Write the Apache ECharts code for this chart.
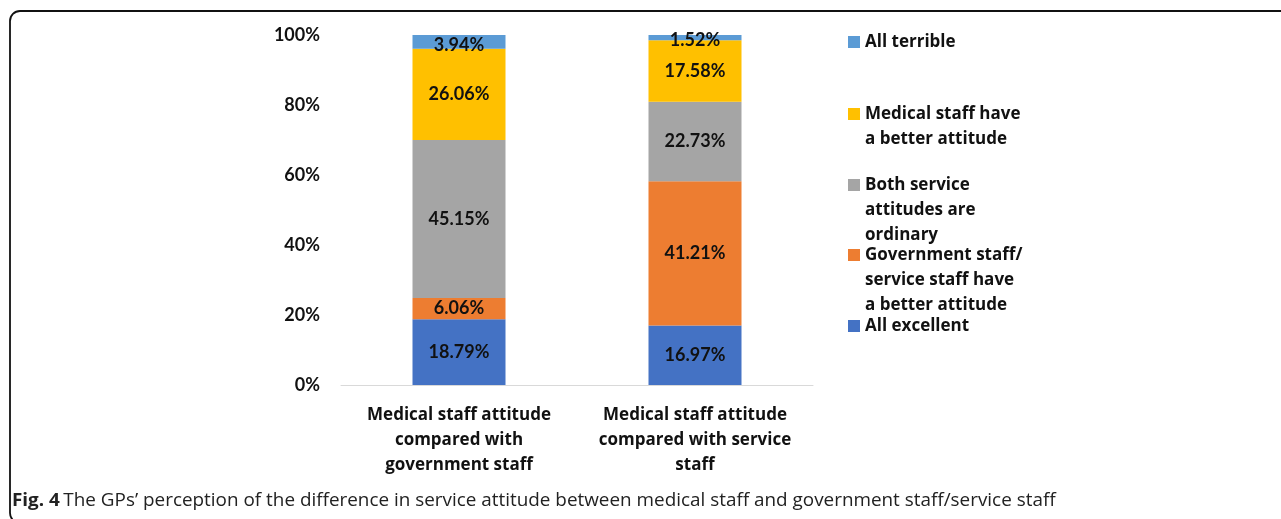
<!DOCTYPE html>
<html><head><meta charset="utf-8">
<script src="https://cdn.jsdelivr.net/npm/echarts@6/dist/echarts.min.js"></script>
<style>html,body{margin:0;padding:0;background:#fff}#c{width:1281px;height:519px}</style>
</head><body><div id="c"></div>
<script>
const categories = ['Medical staff attitude\ncompared with\ngovernment staff', 'Medical staff attitude\ncompared with service\nstaff'];
const allExcellent = [18.79, 16.97];
const govBetter = [6.06, 41.21];
const bothOrdinary = [45.15, 22.73];
const medicalBetter = [26.06, 17.58];
const allTerrible = [3.94, 1.52];
const seriesNames = ['All excellent', 'Government staff/\nservice staff have\na better attitude', 'Both service\nattitudes are\nordinary', 'Medical staff have\na better attitude', 'All terrible'];
const seriesColors = ['#4472C4', '#ED7D31', '#A5A5A5', '#FFC000', '#5B9BD5'];
const seriesValues = [allExcellent, govBetter, bothOrdinary, medicalBetter, allTerrible];
const legendIconCenters = [326, 255, 185, 114, 42];
const captionBold = 'Fig. 4';
const captionText = 'The GPs\u2019 perception of the difference in service attitude between medical staff and government staff/service staff';

const FONT = 'Lato';
const FONT2 = 'Open Sans';
const LH = 25;
const chart = echarts.init(document.getElementById('c'));
const series = seriesNames.map((n, i) => ({
  name: n, type: 'bar', stack: 's', barWidth: 93,
  itemStyle: { color: seriesColors[i] },
  label: { show: true, position: 'inside', color: '#111', fontFamily: FONT, fontWeight: 'bold', fontSize: 18,
    offset: [0, i === 4 ? 3 : 0],
    formatter: p => p.value.toFixed(2) + '%' },
  data: seriesValues[i]
}));
const legends = seriesNames.map((n, i) => {
  const lines = n.split('\n').length;
  return {
    data: [n], left: 848, top: legendIconCenters[i] - (2 * lines - 1) * LH / 2, orient: 'vertical',
    itemWidth: 12, itemHeight: 12, itemGap: 0, padding: 0,
    icon: 'rect', selectedMode: false,
    formatter: t => '\n'.repeat(lines - 1) + t,
    textStyle: { fontFamily: FONT2, fontWeight: 'bold', fontSize: 17, color: '#111', lineHeight: LH }
  };
});
const cv = document.createElement('canvas').getContext('2d');
cv.font = 'bold 18px "Open Sans"';
const wB = cv.measureText(captionBold + ' ').width;
cv.font = '18px "Open Sans"';
const wR = cv.measureText(captionText).width;
const capScale = 1045 / (wB + wR);

chart.setOption({
  animation: false,
  grid: { left: 341, right: 468, top: 35, bottom: 134 },
  legend: legends,
  xAxis: { type: 'category', data: categories,
    axisLine: { lineStyle: { color: '#d9d9d9', width: 1 } }, axisTick: { show: false },
    axisLabel: { fontFamily: FONT2, fontWeight: 'bold', fontSize: 17, color: '#111', lineHeight: LH, margin: 18, interval: 0 } },
  yAxis: { type: 'value', min: 0, max: 100, interval: 20,
    axisLine: { show: false }, axisTick: { show: false }, splitLine: { show: false },
    axisLabel: { formatter: '{value}%', fontFamily: FONT, fontWeight: 'bold', fontSize: 18, color: '#111', margin: 21 } },
  series: series,
  graphic: [
    { type: 'rect', shape: { x: 10, y: 11, width: 1300, height: 512, r: 10 }, style: { fill: null, stroke: '#111', lineWidth: 1.8 }, z: -1 },
    { type: 'text', x: 12, y: 501, scaleX: capScale, style: {
      text: '{b|' + captionBold + '} {r|' + captionText + '}', verticalAlign: 'middle',
      rich: { b: { fontFamily: FONT2, fontWeight: 'bold', fontSize: 18, fill: '#222' },
              r: { fontFamily: FONT2, fontSize: 18, fill: '#222' } } } }
  ]
});
</script></body></html>
